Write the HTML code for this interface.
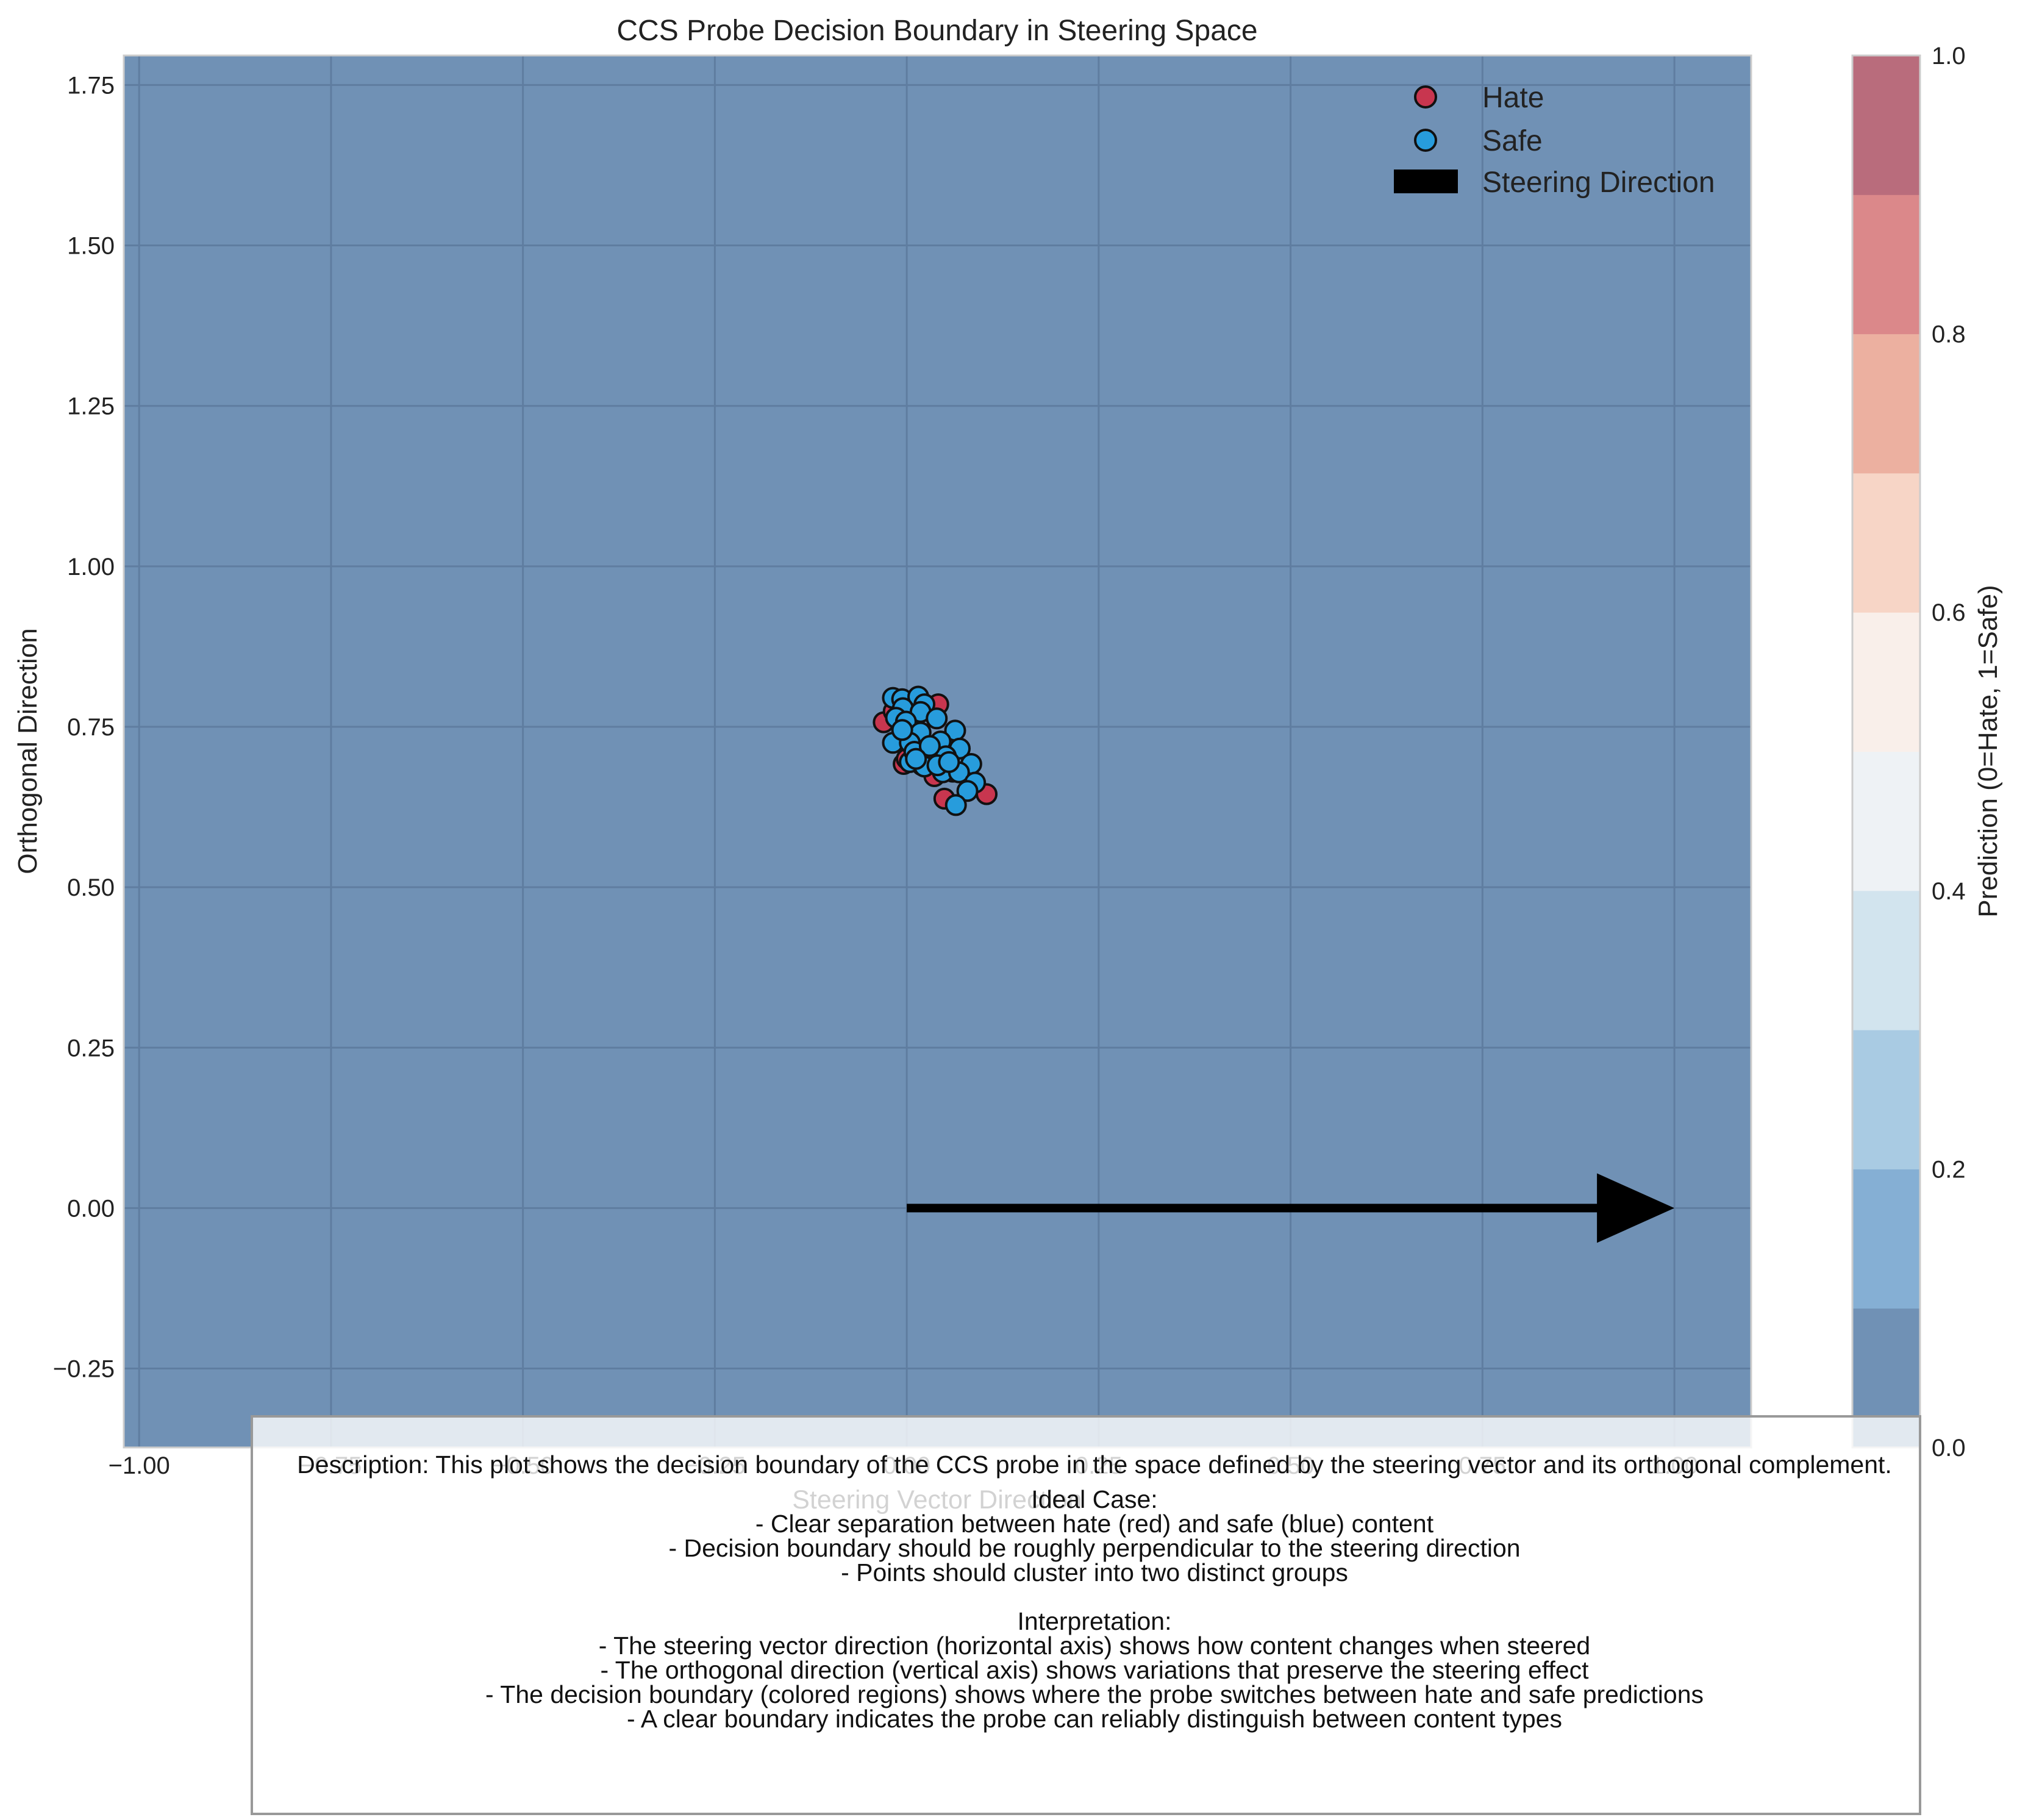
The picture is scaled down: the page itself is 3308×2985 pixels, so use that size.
<!DOCTYPE html>
<html><head><meta charset="utf-8"><style>
html,body{margin:0;padding:0;background:#fff;}
svg{display:block;font-family:"Liberation Sans",sans-serif;}
</style></head><body>
<svg id="chart" width="3308" height="2985" viewBox="0 0 3308 2985" xmlns="http://www.w3.org/2000/svg">
<text x="1537" y="66" font-size="48" text-anchor="middle" fill="#222">CCS Probe Decision Boundary in Steering Space</text>
<g id="plot"></g>
<g id="cbar"></g>
<g id="legend"></g>
<g id="desc"></g>
</svg>
<script>
const xTicks = [-1.00,-0.75,-0.50,-0.25,0.00,0.25,0.50,0.75,1.00];
const yTicks = [-0.25,0.00,0.25,0.50,0.75,1.00,1.25,1.50,1.75];
const xDomain = [-1.02, 1.10];
const yDomain = [-0.373, 1.796];
const safeX = [-0.018,-0.006,0.015,0.023,-0.005,0.018,-0.014,-0.001,0.039,0.063,0.018,-0.018,0.004,0.044,0.069,0.031,0.051,0.084,0.004,0.047,0.068,0.089,0.079,0.064,0.023,0.010,-0.006,0.030,0.012,0.040,0.055];
const safeY = [0.795,0.793,0.797,0.785,0.779,0.773,0.764,0.758,0.763,0.744,0.741,0.725,0.725,0.727,0.716,0.708,0.704,0.692,0.695,0.679,0.679,0.663,0.650,0.628,0.688,0.711,0.745,0.720,0.700,0.690,0.695];
const hateX = [-0.030,0.041,0.049,0.104,-0.004,0.036,-0.017,0.000,0.020,0.060];
const hateY = [0.757,0.785,0.638,0.645,0.692,0.673,0.774,0.700,0.690,0.680];
const arrowStart = [0,0];
const arrowEnd = [1,0];
const cbLevels = [0,0.1,0.2,0.3,0.4,0.5,0.6,0.7,0.8,0.9,1.0];
const cbColors = ["#7091b5","#85afd4","#a9cbe3","#d2e4ee","#eef2f5","#f9efea","#f7d5c6","#ecb0a0","#db888a","#b96c7c"];
const cbTicks = [0.0,0.2,0.4,0.6,0.8,1.0];
const descLines = ["Description: This plot shows the decision boundary of the CCS probe in the space defined by the steering vector and its orthogonal complement.","","Ideal Case:","- Clear separation between hate (red) and safe (blue) content","- Decision boundary should be roughly perpendicular to the steering direction","- Points should cluster into two distinct groups","","Interpretation:","- The steering vector direction (horizontal axis) shows how content changes when steered","- The orthogonal direction (vertical axis) shows variations that preserve the steering effect","- The decision boundary (colored regions) shows where the probe switches between hate and safe predictions","- A clear boundary indicates the probe can reliably distinguish between content types"];

const NS="http://www.w3.org/2000/svg";
const L=203,R=2872,T=91,B=2374;
function sx(v){return L+(v-xDomain[0])/(xDomain[1]-xDomain[0])*(R-L);}
function sy(v){return B-(v-yDomain[0])/(yDomain[1]-yDomain[0])*(B-T);}
function mk(tag,attrs,parent,text){const e=document.createElementNS(NS,tag);for(const k in attrs)e.setAttribute(k,attrs[k]);if(text!==undefined)e.textContent=text;parent.appendChild(e);return e;}
const plot=document.getElementById('plot');
let e=mk('rect',{x:L,y:T,width:R-L,height:B-T,fill:'#7091b5'},plot);


xTicks.forEach(t=>{
  let g=mk('line',{x1:sx(t),x2:sx(t),y1:T,y2:B,stroke:'#5f7da0','stroke-width':3},plot);
  
  
  let lb=mk('text',{x:sx(t),y:2417,'font-size':40,'text-anchor':'middle',fill:'#222'},plot,t.toFixed(2).replace('-','\u2212'));
  
  
});
yTicks.forEach(t=>{
  let g=mk('line',{x1:L,x2:R,y1:sy(t),y2:sy(t),stroke:'#5f7da0','stroke-width':3},plot);
  
  
  let lb=mk('text',{x:188,y:sy(t)+14,'font-size':40,'text-anchor':'end',fill:'#222'},plot,t.toFixed(2).replace('-','\u2212'));
  
  
});
e=mk('rect',{x:L,y:T,width:R-L,height:B-T,fill:'none',stroke:'#cccccc','stroke-width':3},plot);


e=mk('text',{x:1537,y:2474,'font-size':43,'text-anchor':'middle',fill:'#222'},plot,'Steering Vector Direction');


e=mk('text',{x:0,y:0,'font-size':44,'text-anchor':'middle',fill:'#222',transform:'translate(60,1232) rotate(-90)'},plot,'Orthogonal Direction');


hateX.forEach((v,i)=>{
  let c=mk('circle',{cx:sx(v),cy:sy(hateY[i]),r:16,fill:'#c8364f',stroke:'#111','stroke-width':4},plot);
  
  
});
safeX.forEach((v,i)=>{
  let c=mk('circle',{cx:sx(v),cy:sy(safeY[i]),r:16,fill:'#279cdc',stroke:'#111','stroke-width':4},plot);
  
  
});
const ax0=sx(arrowStart[0]),ax1=sx(arrowEnd[0]),ay=sy(arrowStart[1]);
e=mk('polygon',{points:`${ax0},${ay-7} ${ax1-127},${ay-7} ${ax1-127},${ay-57} ${ax1},${ay} ${ax1-127},${ay+57} ${ax1-127},${ay+7} ${ax0},${ay+7}`,fill:'#000'},plot);


const cb=document.getElementById('cbar');const CL=3038,CR=3149;
function cy(v){return B-v*(B-T);}
cbColors.forEach((c,i)=>{
  let r=mk('rect',{x:CL,y:cy(cbLevels[i+1]),width:CR-CL,height:cy(cbLevels[i])-cy(cbLevels[i+1])+0.5,fill:c},cb);
  
  
});
e=mk('rect',{x:CL,y:T,width:CR-CL,height:B-T,fill:'none',stroke:'#cccccc','stroke-width':3},cb);


cbTicks.forEach(t=>{
  let lb=mk('text',{x:3168,y:cy(t)+14,'font-size':40,fill:'#222'},cb,t.toFixed(1));
  
  
});
e=mk('text',{x:0,y:0,'font-size':44,'text-anchor':'middle',fill:'#222',transform:'translate(3275,1232) rotate(-90)'},cb,'Prediction (0=Hate, 1=Safe)');


const lg=document.getElementById('legend');
e=mk('circle',{cx:2338,cy:159,r:17,fill:'#c8364f',stroke:'#111','stroke-width':4},lg);


e=mk('text',{x:2431,y:176,'font-size':48,fill:'#222'},lg,'Hate');


e=mk('circle',{cx:2338,cy:230,r:17,fill:'#279cdc',stroke:'#111','stroke-width':4},lg);


e=mk('text',{x:2431,y:247,'font-size':48,fill:'#222'},lg,'Safe');


e=mk('rect',{x:2286,y:278,width:105,height:39,fill:'#000'},lg);


e=mk('text',{x:2431,y:315,'font-size':48,fill:'#222'},lg,'Steering Direction');


const ds=document.getElementById('desc');
e=mk('rect',{x:413,y:2323,width:2736,height:652,fill:'#ffffff','fill-opacity':0.8,stroke:'#999','stroke-width':4},ds);


const baseY=[2416,2445,2473,2513,2553,2593,2633,2673,2713,2753,2793,2833];
descLines.forEach((s,i)=>{
  if(!s)return;
  let t=mk('text',{x:1795,y:baseY[i],'font-size':41,'text-anchor':'middle',fill:'#111'},ds,s);
  
  
});
</script>
</body></html>
